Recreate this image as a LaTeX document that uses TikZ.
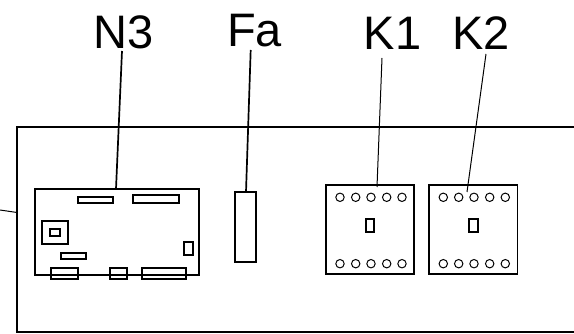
\documentclass[tikz,border=0pt]{standalone}
\usepackage{fontspec}
\setmainfont{Liberation Sans}
\tikzset{
  part/.style={draw=black,line width=1.7pt,fill=white},
  leader/.style={draw=black,line width=1.7pt},
  thinleader/.style={draw=black,line width=1pt},
  lbl/.style={font=\fontsize{47}{47}\selectfont,inner sep=0pt,anchor=base},
  pin/.style={draw=black,line width=1pt,fill=white,circle,minimum size=8.4pt,inner sep=0pt},
  boxn/.style={rectangle,draw=black,line width=1.9pt,inner sep=0pt,fill=white}
}
\newcommand{\rc}[5][part]{\draw[#1] (#2,#3) rectangle (#4,#5);}
\begin{document}
\begin{tikzpicture}[x=1pt,y=-1pt]
\useasboundingbox (0,0) rectangle (574,334);
\fill[white] (0,0) rectangle (574,334);
% enclosure
\draw[line width=1.6pt] (574,127) -- (17,127) -- (17,332) -- (574,332);
\coordinate (stub) at (0,210);
\coordinate (wall) at (17,212.5);
\draw[thinleader] (stub) -- (wall);
% main parts
\node[boxn,minimum width=164pt,minimum height=86pt] (n3box) at (117,232) {};
\node[boxn,minimum width=21pt,minimum height=70pt,line width=1.5pt] (fabox) at (245.5,227) {};
\node[boxn,minimum width=88.5pt,minimum height=89pt] (k1box) at (370,229.8) {};
\node[boxn,minimum width=88.5pt,minimum height=89pt] (k2box) at (473.2,229.8) {};
% labels
\node[lbl] (n3) at (124,48.3) {N3};
\node[lbl] (fa) at (254.5,46.7) {Fa};
\node[lbl] (k1) at (392.5,49.3) {K1};
\node[lbl] (k2) at (481,49.3) {K2};
\coordinate (n3l) at (122,51);
\coordinate (fal) at (250.7,50);
\coordinate (k1l) at (382,58);
\coordinate (k2l) at (486,54);
\coordinate (n3e) at (116,189);
\coordinate (fae) at (246,192);
\coordinate (k1e) at (377,187);
\coordinate (k2e) at (467,192);
\draw[leader] (n3l) -- (n3e);
\draw[leader] (fal) -- (fae);
\draw[thinleader] (k1l) -- (k1e);
\draw[thinleader] (k2l) -- (k2e);
% N3 details
\rc{78}{197.3}{113}{203.3}
\rc{132.7}{195}{178.7}{203.3}
\rc{42.3}{220.7}{68.3}{244.3}
\rc{50}{229}{60.3}{236}
\rc{61}{253.3}{86.3}{258.7}
\rc{184.3}{242}{193}{255}
\rc{51}{268}{78}{278.7}
\rc{110.3}{268}{126.7}{278.7}
\rc{142.3}{268}{186}{278.7}
\draw[line width=1.4pt] (51,275) -- (78,275) (110.3,275) -- (126.7,275) (142.3,275) -- (186,275);
% K1, K2 details
\rc{365.7}{218.7}{374.3}{231.7}
\rc{469}{218.7}{478}{231.7}
\foreach \x in {340,355.7,371,386.7,402,443.3,458.7,474,489.7,505.3}{
  \node[pin] at (\x,197.3) {};
  \node[pin] at (\x,263.7) {};
}
\end{tikzpicture}
\end{document}
